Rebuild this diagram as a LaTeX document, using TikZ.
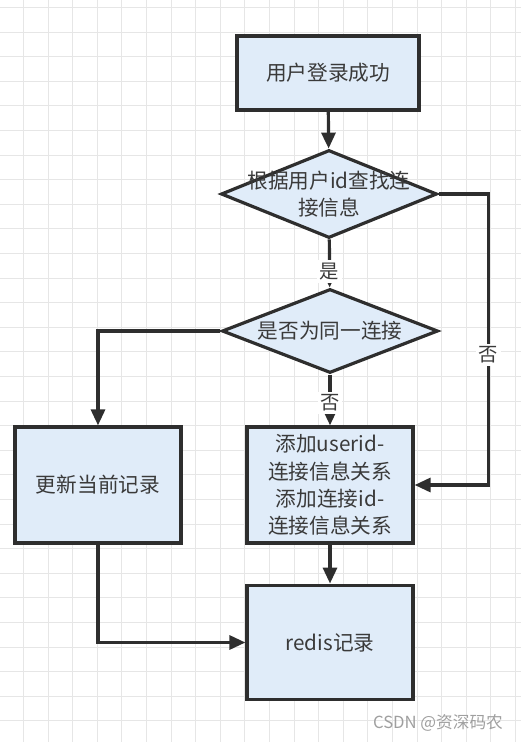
\documentclass[tikz,border=0pt]{standalone}
\usepackage{fontspec}
\setmainfont{Noto Sans CJK SC}
\usetikzlibrary{shapes.geometric,arrows.meta}
\definecolor{boxfill}{HTML}{E0ECF9}
\definecolor{edgegray}{HTML}{2E2E2E}
\definecolor{textgray}{HTML}{3A3A3A}
\definecolor{gridgray}{HTML}{E6E6E6}

\begin{document}
\begin{tikzpicture}[x=0.75pt,y=-0.75pt,
  process/.style={draw=edgegray,line width=2.4pt,fill=boxfill,text=textgray,inner sep=0pt,
    minimum width=124.5pt,minimum height=87pt,align=center,font=\fontsize{15.5}{20.5}\selectfont},
  decision/.style={diamond,draw=edgegray,line width=2.4pt,fill=boxfill,inner sep=0pt,
    minimum width=162pt,minimum height=64pt},
  dectext/.style={text=textgray,align=center,font=\fontsize{15.5}{20.5}\selectfont},
  answer/.style={fill=white,text=textgray,inner sep=2pt,font=\fontsize{14.5}{14.5}\selectfont},
  flow/.style={draw=edgegray,line width=2.4pt,-{Triangle[length=12pt,width=10.5pt]}}]

  \useasboundingbox (0,0) rectangle (521,742);
  % background grid
  \foreach \gx in {0,...,21}
    \draw[gridgray,line width=0.75pt] ({-1.1+24.6*\gx},0) -- ({-1.1+24.6*\gx},742);
  \foreach \gy in {0,...,29}
    \draw[gridgray,line width=0.75pt] (0,{7.5+24.6*\gy}) -- (521,{7.5+24.6*\gy});

  \node [process,minimum width=136.5pt,minimum height=55.5pt] (login) at (328,73) {用户登录成功};
  \node [decision,minimum height=66pt] (find) at (329,194) {};
  \node [dectext] at (find) {根据用户id查找连\\接信息};
  \node [decision,minimum height=63pt] (same) at (330,331) {};
  \node [dectext] at (same) {是否为同一连接};
  \node [process] (update) at (98,485) {更新当前记录};
  \node [process] (add) at (330,485) {添加userid-\\连接信息关系\\添加连接id-\\连接信息关系};
  \node [process,minimum height=86pt] (redis) at (330,642.5) {redis记录};

  \draw [flow] (login) -- (find);
  \draw [flow] (find) -- (same) node [answer,pos=0.67] {是};
  \draw [flow] (find.east) -- ++(50,0) |- (add.east) node [answer,pos=0.276] {否};
  \draw [flow] (same.west) -| (update.north);
  \draw [flow] (same) -- (add) node [answer,pos=0.55] {否};
  \draw [flow] (add) -- (redis);
  \draw [flow] (update.south) |- (redis.west);

  \node [text=gray!75,font=\fontsize{12.5}{12.5}\selectfont] (mark) at (438,723) {CSDN @资深码农};
\end{tikzpicture}
\end{document}
